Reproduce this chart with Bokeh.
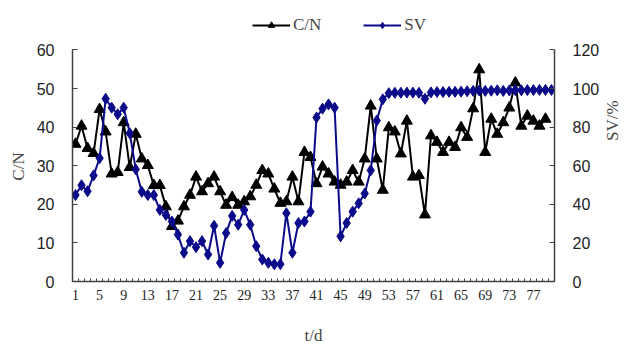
import math
from bokeh.plotting import figure
from bokeh.models import Range1d, LinearAxis, FixedTicker, Legend, LegendItem
from bokeh.embed import file_html
from bokeh.resources import INLINE

days = list(range(1, 81))
x_tick_days = [1, 5, 9, 13, 17, 21, 25, 29, 33, 37, 41, 45, 49, 53, 57, 61, 65, 69, 73, 77]
cn_ticks = [0, 10, 20, 30, 40, 50, 60]
sv_ticks = [0, 20, 40, 60, 80, 100, 120]

cn = [35.6, 40.3, 34.5, 33.2, 44.6, 38.8, 27.9, 28.3, 41.2, 29.6,
      38.2, 31.8, 30.1, 24.9, 24.9, 19.4, 14.3, 15.7, 19.4, 22.4,
      27.1, 23.3, 25.4, 27.1, 23.3, 19.8, 21.8, 19.8, 20.7, 22.0,
      25.0, 28.8, 27.9, 24.0, 20.3, 20.7, 27.1, 20.7, 33.5, 32.2,
      25.4, 29.7, 27.9, 25.8, 25.0, 25.8, 28.8, 25.8, 31.8, 45.5,
      31.8, 23.7, 39.9, 38.8, 33.1, 41.6, 27.1, 27.5, 17.3, 37.8,
      36.1, 33.5, 36.1, 34.8, 39.9, 37.4, 44.8, 54.9, 33.5, 42.1,
      38.2, 41.2, 45.0, 51.5, 40.3, 42.9, 41.6, 40.3, 42.1]

sv = [44.8, 49.9, 46.8, 55.0, 63.9, 94.7, 90.1, 86.7, 90.1, 76.9,
      58.1, 46.5, 44.8, 44.8, 37.1, 34.5, 31.1, 24.3, 14.9, 20.9,
      17.8, 20.9, 14.0, 28.9, 9.7, 25.1, 34.0, 29.4, 37.1, 29.4,
      18.3, 11.4, 9.7, 8.9, 9.0, 35.4, 14.9, 30.3, 31.1, 36.2,
      85.0, 89.6, 91.8, 90.1, 23.4, 30.3, 36.2, 40.5, 45.6, 57.6,
      83.4, 94.4, 97.6, 97.8, 97.8, 97.9, 97.9, 97.8, 94.7, 98.0,
      98.2, 98.2, 98.3, 98.3, 98.4, 98.6, 98.8, 99.0, 98.8, 98.9,
      99.1, 98.8, 99.0, 99.2, 99.1, 99.2, 99.2, 99.3, 99.3, 99.3]

SERIF = "Liberation Serif"
SANS = "Liberation Sans"
AXIS_COLOR = "#404040"
PAD = "\u00a0" * 12   # keeps the rotated axis titles centred on the bounded axes

# frame spans the full height down to the x axis; the value axes are bounded
FRAME_H = 284.0
AXIS_H = 234.0
cn_top = cn_ticks[-1] * FRAME_H / AXIS_H
sv_top = sv_ticks[-1] * FRAME_H / AXIS_H

p = figure(width=634, height=347, output_backend="svg", toolbar_location=None,
           x_range=Range1d(0.5, 80.5), y_range=Range1d(0, cn_top),
           min_border_left=72, min_border_right=71, min_border_top=0,
           min_border_bottom=63)
p.extra_y_ranges = {"sv": Range1d(0, sv_top)}
p.outline_line_color = None
p.xgrid.visible = False
p.ygrid.visible = False

# x axis
xa = p.xaxis[0]
xa.ticker = FixedTicker(ticks=x_tick_days,
                        minor_ticks=[d - 0.5 for d in days] + [days[-1] + 0.5])
xa.major_tick_in = 0
xa.major_tick_out = 0
xa.minor_tick_in = 3
xa.minor_tick_out = 0
xa.minor_tick_line_color = AXIS_COLOR
xa.axis_line_color = AXIS_COLOR
xa.axis_line_width = 1.5
xa.major_label_text_font = SERIF
xa.major_label_text_font_size = "14px"
xa.major_label_text_color = "#222222"
xa.major_label_standoff = 8
xa.axis_label = "t/d"
xa.axis_label_text_font = SERIF
xa.axis_label_text_font_style = "normal"
xa.axis_label_text_font_size = "17px"
xa.axis_label_standoff = 23

# left axis
ya = p.yaxis[0]
ya.bounds = (cn_ticks[0], cn_ticks[-1])
ya.ticker = FixedTicker(ticks=cn_ticks)
ya.major_tick_in = 5
ya.major_tick_out = 0
ya.minor_tick_line_color = None
ya.axis_line_color = AXIS_COLOR
ya.axis_line_width = 1.5
ya.major_tick_line_color = AXIS_COLOR
ya.major_label_text_font = SANS
ya.major_label_text_font_size = "16px"
ya.major_label_text_color = "#222222"
ya.major_label_standoff = 18
ya.axis_label = "C/N" + PAD
ya.axis_label_text_font = SERIF
ya.axis_label_text_font_style = "normal"
ya.axis_label_text_font_size = "17px"
ya.axis_label_text_color = "#444444"
ya.axis_label_standoff = 6

# right axis
ra = LinearAxis(y_range_name="sv", ticker=FixedTicker(ticks=sv_ticks),
                bounds=(sv_ticks[0], sv_ticks[-1]))
ra.major_tick_in = 5
ra.major_tick_out = 0
ra.minor_tick_line_color = None
ra.axis_line_color = AXIS_COLOR
ra.axis_line_width = 1.5
ra.major_tick_line_color = AXIS_COLOR
ra.major_label_text_font = SANS
ra.major_label_text_font_size = "16px"
ra.major_label_text_color = "#222222"
ra.major_label_standoff = 18
ra.axis_label = "SV/%" + PAD
ra.axis_label_orientation = math.pi / 2
ra.axis_label_text_font = SERIF
ra.axis_label_text_font_style = "normal"
ra.axis_label_text_font_size = "17px"
ra.axis_label_text_color = "#444444"
ra.axis_label_standoff = 10
p.add_layout(ra, "right")

NAVY = "#0a0a8a"

cn_days = days[:len(cn)]
l1 = p.line(cn_days, cn, line_color="black", line_width=2)
s1 = p.scatter(cn_days, cn, marker="triangle", size=11, fill_color="black",
               line_color="black")
l2 = p.line(days, sv, line_color=NAVY, line_width=2, y_range_name="sv")
s2 = p.scatter(days, sv, marker="diamond", size=11,
               fill_color=NAVY, line_color=NAVY, y_range_name="sv")

legend = Legend(items=[LegendItem(label="C/N", renderers=[l1, s1]),
                       LegendItem(label="SV", renderers=[l2, s2])],
                orientation="horizontal", location=(180, 246),
                label_text_font=SERIF, label_text_font_size="17px",
                glyph_width=38, glyph_height=16, label_standoff=3,
                spacing=42, padding=0, margin=0,
                border_line_color=None, background_fill_alpha=0)
p.add_layout(legend, "center")

open("out.html", "w").write(file_html(p, INLINE))
